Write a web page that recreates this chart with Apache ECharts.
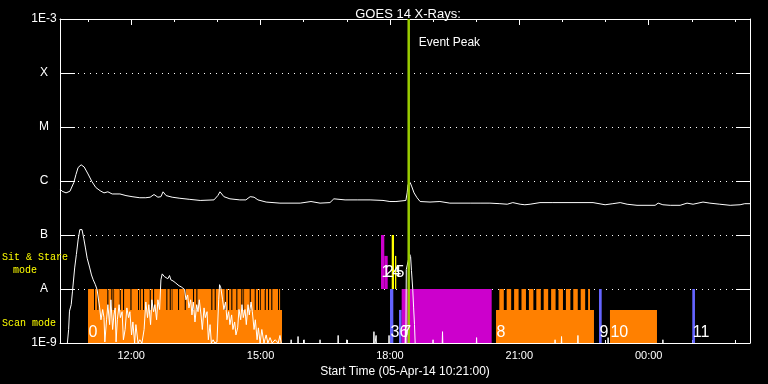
<!DOCTYPE html>
<html><head><meta charset="utf-8">
<script src="https://cdn.jsdelivr.net/npm/echarts@6/dist/echarts.min.js"></script>
<style>html,body{margin:0;padding:0;background:#000}#c{width:768px;height:384px}</style>
</head><body><div id="c"></div>
<script>
// ---------- data ----------
const titleText = 'GOES 14 X-Rays:';
const xAxisName = 'Start Time (05-Apr-14 10:21:00)';
const startHour = 10.35;   // 10:21 on 05-Apr-14
const endHour = 26.35;     // 02:21 on 06-Apr-14
const xMajorHours = [12, 15, 18, 21, 24];
const xMinorHours = [11, 13, 14, 16, 17, 19, 20, 22, 23, 25, 26];
const yLevelLabels = ['1E-9', 'A', 'B', 'C', 'M', 'X', '1E-3'];
const eventPeakHour = 18.436;
const eventPeakText = 'Event Peak';
const modeLabels = ['Sit & Stare', 'mode', 'Scan mode'];

// long channel (1-8 A): hours since 05-Apr 00:00, log10 flux (W/m2)
const longHours = [10.35,10.40,10.49,10.58,10.67,10.72,10.77,10.84,10.91,11.00,11.09,11.18,11.28,11.37,11.46,11.56,11.74,11.88,12.02,12.20,12.34,12.44,12.53,12.62,12.69,12.74,12.81,12.95,13.13,13.36,13.60,13.92,14.01,14.06,14.15,14.29,14.52,14.66,14.76,14.85,14.94,15.13,15.45,15.92,16.17,16.38,16.61,16.70,16.96,17.24,17.54,17.84,18.00,18.14,18.37,18.40,18.42,18.47,18.51,18.56,18.63,18.70,18.93,19.16,19.39,19.86,20.09,20.32,20.55,20.72,20.85,21.02,21.13,21.25,21.48,21.78,22.71,22.73,22.99,23.17,23.34,23.50,23.73,24.15,24.22,24.33,24.50,24.73,24.89,25.03,25.26,25.42,25.65,25.89,26.12,26.23,26.35];
const longLog = [-6.15,-6.19,-6.22,-6.19,-6.03,-5.88,-5.75,-5.70,-5.74,-5.87,-6.01,-6.12,-6.18,-6.22,-6.20,-6.24,-6.24,-6.27,-6.29,-6.31,-6.31,-6.30,-6.25,-6.30,-6.29,-6.20,-6.27,-6.30,-6.32,-6.34,-6.36,-6.35,-6.27,-6.20,-6.29,-6.33,-6.35,-6.35,-6.29,-6.30,-6.35,-6.39,-6.41,-6.41,-6.38,-6.41,-6.40,-6.33,-6.35,-6.35,-6.35,-6.36,-6.38,-6.38,-6.36,-6.22,-6.07,-6.03,-6.11,-6.22,-6.31,-6.38,-6.39,-6.38,-6.41,-6.41,-6.41,-6.41,-6.42,-6.43,-6.40,-6.43,-6.44,-6.43,-6.40,-6.40,-6.40,-6.43,-6.44,-6.42,-6.40,-6.43,-6.45,-6.45,-6.41,-6.44,-6.45,-6.45,-6.41,-6.43,-6.39,-6.41,-6.43,-6.45,-6.44,-6.42,-6.42];

// short channel (0.5-4 A)
const shortHours = [10.35,10.51,10.55,10.57,10.61,10.64,10.69,10.73,10.77,10.81,10.83,10.86,10.90,10.94,10.98,11.04,11.08,11.12,11.17,11.21,11.27,11.30,11.34,11.37,11.39,11.43,11.46,11.50,11.53,11.57,11.60,11.63,11.65,11.68,11.72,11.75,11.79,11.82,11.86,11.90,11.94,11.97,12.01,12.04,12.08,12.11,12.16,12.20,12.25,12.30,12.34,12.38,12.41,12.45,12.48,12.52,12.55,12.59,12.62,12.66,12.69,12.72,12.74,12.77,12.81,12.85,12.89,12.92,12.97,13.02,13.06,13.11,13.16,13.20,13.24,13.27,13.31,13.34,13.38,13.41,13.44,13.48,13.52,13.55,13.58,13.62,13.65,13.69,13.72,13.76,13.79,13.83,13.86,13.90,13.94,13.99,14.03,14.05,14.08,14.12,14.15,14.19,14.22,14.26,14.29,14.33,14.36,14.40,14.43,14.47,14.50,14.54,14.57,14.60,14.64,14.67,14.71,14.74,14.78,14.81,14.85,14.88,14.92,14.95,14.99,15.03,15.08,15.13,15.17,15.22,15.27,15.34,15.41,15.45,15.50,
  15.54,15.70,15.71,15.72,15.86,15.87,15.88,16.00,16.01,16.02,16.37,16.38,16.39,16.79,16.80,16.81,16.99,17.00,17.01,17.62,17.63,17.64,17.67,17.68,17.69,17.97,17.98,17.99,18.35,18.36,18.37,18.38,18.42,18.46,18.48,18.50,18.53,18.55,18.57,18.59,18.99,19.00,19.01,19.21,19.22,19.23,20.00,20.01,20.02,21.82,21.83,21.84,21.97,21.98,21.99,22.35,22.36,22.37,23.05,23.06,23.07,24.32,24.33,24.34,26.35];
const shortLog = [-9.1,-9.1,-8.75,-8.41,-8.29,-8.04,-7.61,-7.36,-7.09,-6.90,-6.87,-6.90,-7.06,-7.24,-7.43,-7.61,-7.74,-7.83,-7.92,-8.01,-8.35,-8.57,-8.38,-8.53,-8.98,-8.57,-8.29,-8.66,-8.20,-8.75,-8.48,-8.35,-8.98,-8.57,-8.29,-8.53,-8.42,-8.94,-8.75,-8.35,-8.53,-8.42,-8.85,-8.61,-9.0,-8.66,-9.0,-8.94,-9.0,-8.75,-8.24,-8.53,-8.29,-8.66,-8.20,-8.42,-8.29,-8.57,-8.20,-8.38,-7.83,-7.72,-7.70,-7.77,-7.74,-7.81,-7.75,-7.83,-7.85,-7.88,-7.90,-7.94,-7.96,-7.98,-8.01,-8.20,-8.11,-8.35,-8.20,-8.48,-8.24,-8.61,-8.29,-8.42,-8.20,-8.48,-8.75,-8.35,-8.53,-8.42,-8.94,-8.66,-9.0,-8.94,-9.0,-8.98,-8.20,-7.92,-7.98,-8.20,-8.38,-8.24,-8.57,-8.42,-8.66,-8.48,-8.75,-8.61,-8.85,-8.72,-8.38,-8.57,-8.29,-8.53,-8.38,-8.66,-8.29,-8.48,-8.24,-8.42,-8.75,-8.57,-8.94,-8.72,-9.0,-8.75,-9.0,-8.85,-9.0,-8.90,-9.0,-8.94,-9.0,-8.86,-9.1,
  -9.1,-9.1,-8.94,-9.1,-9.1,-8.88,-9.1,-9.1,-8.94,-9.1,-9.1,-8.94,-9.1,-9.1,-8.86,-9.1,-9.1,-8.94,-9.1,-9.1,-8.79,-9.1,-9.1,-8.86,-9.1,-9.1,-8.86,-9.1,-9.1,-8.69,-9.1,-7.64,-7.49,-7.36,-7.40,-7.66,-8.01,-8.35,-8.66,-9.1,-9.1,-8.94,-9.1,-9.1,-8.79,-9.1,-9.1,-8.90,-9.1,-9.1,-8.94,-9.1,-9.1,-8.88,-9.1,-9.1,-8.86,-9.1,-9.1,-8.90,-9.1,-9.1,-8.94,-9.1,-9.1];

// single observation blocks: [start hour, end hour, mode, height, colour]
const obsBlocks = [
  [17.793, 17.870, 'sit',  'full', 'magenta'],
  [17.870, 17.949, 'sit',  'part', 'magenta'],
  [18.002, 18.079, 'scan', 'full', 'blue'],
  [18.042, 18.095, 'sit',  'full', 'yellow'],
  [18.118, 18.148, 'sit',  'part', 'yellow'],
  [18.211, 18.273, 'scan', 'part', 'blue'],
  [18.273, 20.360, 'scan', 'full', 'magenta'],
  [22.848, 22.911, 'scan', 'full', 'blue'],
  [23.103, 24.193, 'scan', 'part', 'orange'],
  [25.012, 25.074, 'scan', 'full', 'blue']
];
// orange scan sequences: base (part height) span and full-height scans inside
const scanSeq0Span = [11.000, 15.498];
const scanSeq0Full = [[11.000,11.138],[11.163,11.215],[11.240,11.447],[11.472,11.540],[11.565,11.579],[11.604,11.734],[11.759,11.811],[11.836,11.983],[12.008,12.159],[12.184,12.198],[12.223,12.275],[12.300,12.430],[12.455,12.507],[12.532,12.815],[12.840,12.894],[12.919,12.931],[12.956,13.086],[13.111,13.242],[13.267,13.434],[13.459,13.511],[13.536,13.858],[13.883,13.937],[13.962,14.169],[14.194,14.246],[14.271,14.322],[14.347,14.438],[14.463,14.554],[14.579,14.593],[14.618,14.749],[14.774,14.865],[14.890,14.941],[14.966,14.981],[15.006,15.097],[15.122,15.173],[15.198,15.249],[15.274,15.405],[15.430,15.451]];
const scanSeq8Span = [20.460, 22.732];
const scanSeq8Full = [[20.537,20.641],[20.708,20.812],[20.880,20.984],[21.051,21.155],[21.223,21.327],[21.395,21.499],[21.566,21.670],[21.738,21.842],[21.909,22.013],[22.081,22.185],[22.252,22.356],[22.424,22.528],[22.596,22.640]];

// numbered labels: [text, start hour, mode]
const eventLabels = [['0',11.000,'scan'],['1',17.793,'sit'],['2',17.870,'sit'],['3',18.002,'scan'],['4',18.042,'sit'],['5',18.118,'sit'],['6',18.211,'scan'],['7',18.273,'scan'],['8',20.460,'scan'],['9',22.848,'scan'],['10',23.103,'scan'],['11',25.012,'scan']];

// ---------- styles / levels ----------
const COLORS = {orange:'#ff8000', magenta:'#cc00cc', blue:'#6464ff', yellow:'#ffff00'};
const BAND = {scan:{lo:1e-9, part:4.1e-9, full:1e-8}, sit:{lo:1e-8, part:4.1e-8, full:1e-7}};
const LABEL_OFF = {scan:-10.5, sit:-16.5};
const FONT = 'Liberation Sans';

const rects = [];
function addBlock(s, e, mode, h, col) { rects.push([s, e, BAND[mode].lo, BAND[mode][h], col]); }
addBlock(scanSeq0Span[0], scanSeq0Span[1], 'scan', 'part', 'orange');
scanSeq0Full.forEach(p => addBlock(p[0], p[1], 'scan', 'full', 'orange'));
addBlock(scanSeq8Span[0], scanSeq8Span[1], 'scan', 'part', 'orange');
scanSeq8Full.forEach(p => addBlock(p[0], p[1], 'scan', 'full', 'orange'));
obsBlocks.forEach(b => addBlock(b[0], b[1], b[2], b[3], b[4]));

function pairs(hs, ls) { const n = Math.min(hs.length, ls.length); const out = []; for (let i = 0; i < n; i++) out.push([hs[i], Math.pow(10, ls[i])]); return out; }

const chart = echarts.init(document.getElementById('c'), null, {renderer:'canvas'});
const fmtHour = v => { const h = Math.round(v) % 24; return (h < 10 ? '0' : '') + h + ':00'; };
const baseX = {type:'value', min:startHour, max:endHour, splitLine:{show:false}};
const white = '#ffffff';

chart.setOption({
  backgroundColor:'#000',
  animation:false,
  grid:{left:60, right:18, top:19, bottom:41},
  title:{text:titleText, left:403, top:3, textAlign:'center',
         textStyle:{color:white, fontFamily:FONT, fontSize:13, fontWeight:'normal'}},
  xAxis:[
    Object.assign({}, baseX, {position:'bottom',
      axisLine:{lineStyle:{color:white, width:1}},
      axisTick:{inside:true, length:6, customValues:xMajorHours, lineStyle:{color:white}},
      axisLabel:{customValues:xMajorHours, formatter:fmtHour, color:white, fontFamily:FONT, fontSize:11, margin:7},
      name:xAxisName, nameLocation:'middle', nameGap:19,
      nameTextStyle:{color:white, fontFamily:FONT, fontSize:12}}),
    Object.assign({}, baseX, {position:'bottom', axisLine:{show:false},
      axisTick:{inside:true, length:3, customValues:xMinorHours, lineStyle:{color:white}},
      axisLabel:{show:false}}),
    Object.assign({}, baseX, {position:'top',
      axisLine:{lineStyle:{color:white, width:1}},
      axisTick:{inside:true, length:6, customValues:xMajorHours, lineStyle:{color:white}},
      axisLabel:{show:false}}),
    Object.assign({}, baseX, {position:'top', axisLine:{show:false},
      axisTick:{inside:true, length:3, customValues:xMinorHours, lineStyle:{color:white}},
      axisLabel:{show:false}})
  ],
  yAxis:[
    {type:'log', logBase:10, min:1e-9, max:1e-3, position:'left',
     axisLine:{lineStyle:{color:white}},
     axisTick:{inside:true, length:15, lineStyle:{color:white}},
     axisLabel:{color:white, fontFamily:FONT, fontSize:12, align:'center', margin:16,
       formatter: v => yLevelLabels[Math.round(Math.log10(v)) + 9] || ''},
     splitLine:{show:true, lineStyle:{color:white, type:[1,5], width:1}}},
    {type:'log', logBase:10, min:1e-9, max:1e-3, position:'right',
     axisLine:{lineStyle:{color:white}},
     axisTick:{inside:true, length:14, lineStyle:{color:white}},
     axisLabel:{show:false}, splitLine:{show:false}}
  ],
  graphic:[
    {type:'text', left:2, top:252, z:100, style:{text:modeLabels[0], fill:'#ffff00', font:'10px "Liberation Mono"'}},
    {type:'text', left:13, top:265, z:100, style:{text:modeLabels[1], fill:'#ffff00', font:'10px "Liberation Mono"'}},
    {type:'text', left:2, top:318, z:100, style:{text:modeLabels[2], fill:'#ffff00', font:'10px "Liberation Mono"'}}
  ],
  series:[
    {type:'custom', name:'obs', xAxisIndex:0, yAxisIndex:0, clip:true, z:2,
     data: rects.map(r => [r[0], r[1], r[2], r[3]]),
     renderItem:(params, api) => {
       const r = rects[params.dataIndex];
       const p0 = api.coord([r[0], r[3]]), p1 = api.coord([r[1], r[2]]);
       return {type:'rect', shape:{x:p0[0], y:p0[1], width:Math.max(p1[0]-p0[0], 1), height:p1[1]-p0[1]},
               style:{fill:COLORS[r[4]]}};
     }},
    {type:'line', name:'short', xAxisIndex:0, yAxisIndex:0, z:4, symbol:'none', clip:true,
     data: pairs(shortHours, shortLog), lineStyle:{color:white, width:1}},
    {type:'line', name:'long', xAxisIndex:0, yAxisIndex:0, z:4, symbol:'none', clip:true,
     data: pairs(longHours, longLog), lineStyle:{color:white, width:1}},
    {type:'custom', name:'peak', xAxisIndex:0, yAxisIndex:0, z:5,
     data:[[eventPeakHour]],
     renderItem:(params, api) => {
       const x = api.coord([api.value(0), 1e-9])[0];
       const cs = params.coordSys;
       return {type:'group', children:[
         {type:'line', shape:{x1:x, y1:cs.y, x2:x, y2:cs.y+cs.height}, style:{stroke:'#99cc00', lineWidth:2.5}},
         {type:'text', x:x+10, y:cs.y+24, style:{text:eventPeakText, fill:white, font:'12px "Liberation Sans"', textVerticalAlign:'middle'}}
       ]};
     }},
    {type:'custom', name:'labels', xAxisIndex:0, yAxisIndex:0, z:6,
     data: eventLabels.map(l => [l[1]]),
     renderItem:(params, api) => {
       const l = eventLabels[params.dataIndex];
       const p = api.coord([l[1], BAND[l[2]].lo]);
       return {type:'text', x:p[0]+0.5, y:p[1]+LABEL_OFF[l[2]],
               style:{text:l[0], fill:white, font:'16px "Liberation Sans"', textVerticalAlign:'middle', textAlign:'left'}};
     }}
  ]
});
</script></body></html>
